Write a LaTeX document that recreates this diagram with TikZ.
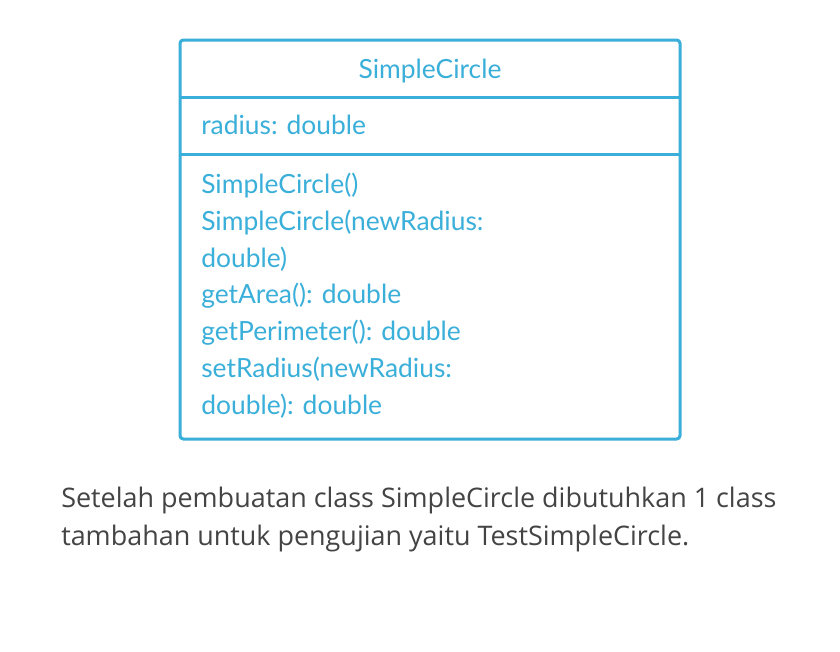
\documentclass[tikz,border=0pt]{standalone}
\usepackage{fontspec}
\usepackage{xcolor}
\setmainfont{Open Sans}
\newfontfamily\umlfont{Lato}
\usetikzlibrary{positioning}
\definecolor{umlblue}{HTML}{3AAFD9}
\definecolor{bodygray}{HTML}{444444}

\begin{document}
\begin{tikzpicture}[x=0.75pt, y=-0.75pt,
        frame/.style={draw=umlblue, line width=2.25pt},
        member/.style={anchor=base west, inner sep=0pt, text=umlblue,
                       font=\umlfont\fontsize{19.8pt}{27.6pt}\selectfont},
        para/.style={anchor=base west, inner sep=0pt, text=bodygray,
                     font=\fontsize{20.2pt}{28pt}\selectfont}
      ]
        \fill[white] (0,0) rectangle (840,651);
        \useasboundingbox (0,0) rectangle (840,651);
        % class box
        \draw[frame, rounded corners=2.5pt] (180,40) rectangle (680,439);
        \coordinate (d1w) at (180,97);
        \coordinate (d1e) at (680,97);
        \coordinate (d2w) at (180,154);
        \coordinate (d2e) at (680,154);
        \draw[frame] (d1w) -- (d1e);
        \draw[frame] (d2w) -- (d2e);
        \node[member, anchor=base] (name) at (430,78) {SimpleCircle};
        \node[member] (attr) at (201,134) {radius: double};
        \node[member] (m1) at (201,193) {SimpleCircle()};
        \node[member] (m2) at (201,230) {SimpleCircle(newRadius:};
        \node[member] (m3) at (201,267) {double)};
        \node[member] (m4) at (201,303) {getArea(): double};
        \node[member] (m5) at (201,340) {getPerimeter(): double};
        \node[member] (m6) at (201,377) {setRadius(newRadius:};
        \node[member] (m7) at (201,414) {double): double};
        % caption
        \node[para] (p1) at (61,507) {Setelah pembuatan class SimpleCircle dibutuhkan 1 class};
        \node[para] (p2) at (61,545) {tambahan untuk pengujian yaitu TestSimpleCircle.};
      \end{tikzpicture}
\end{document}
